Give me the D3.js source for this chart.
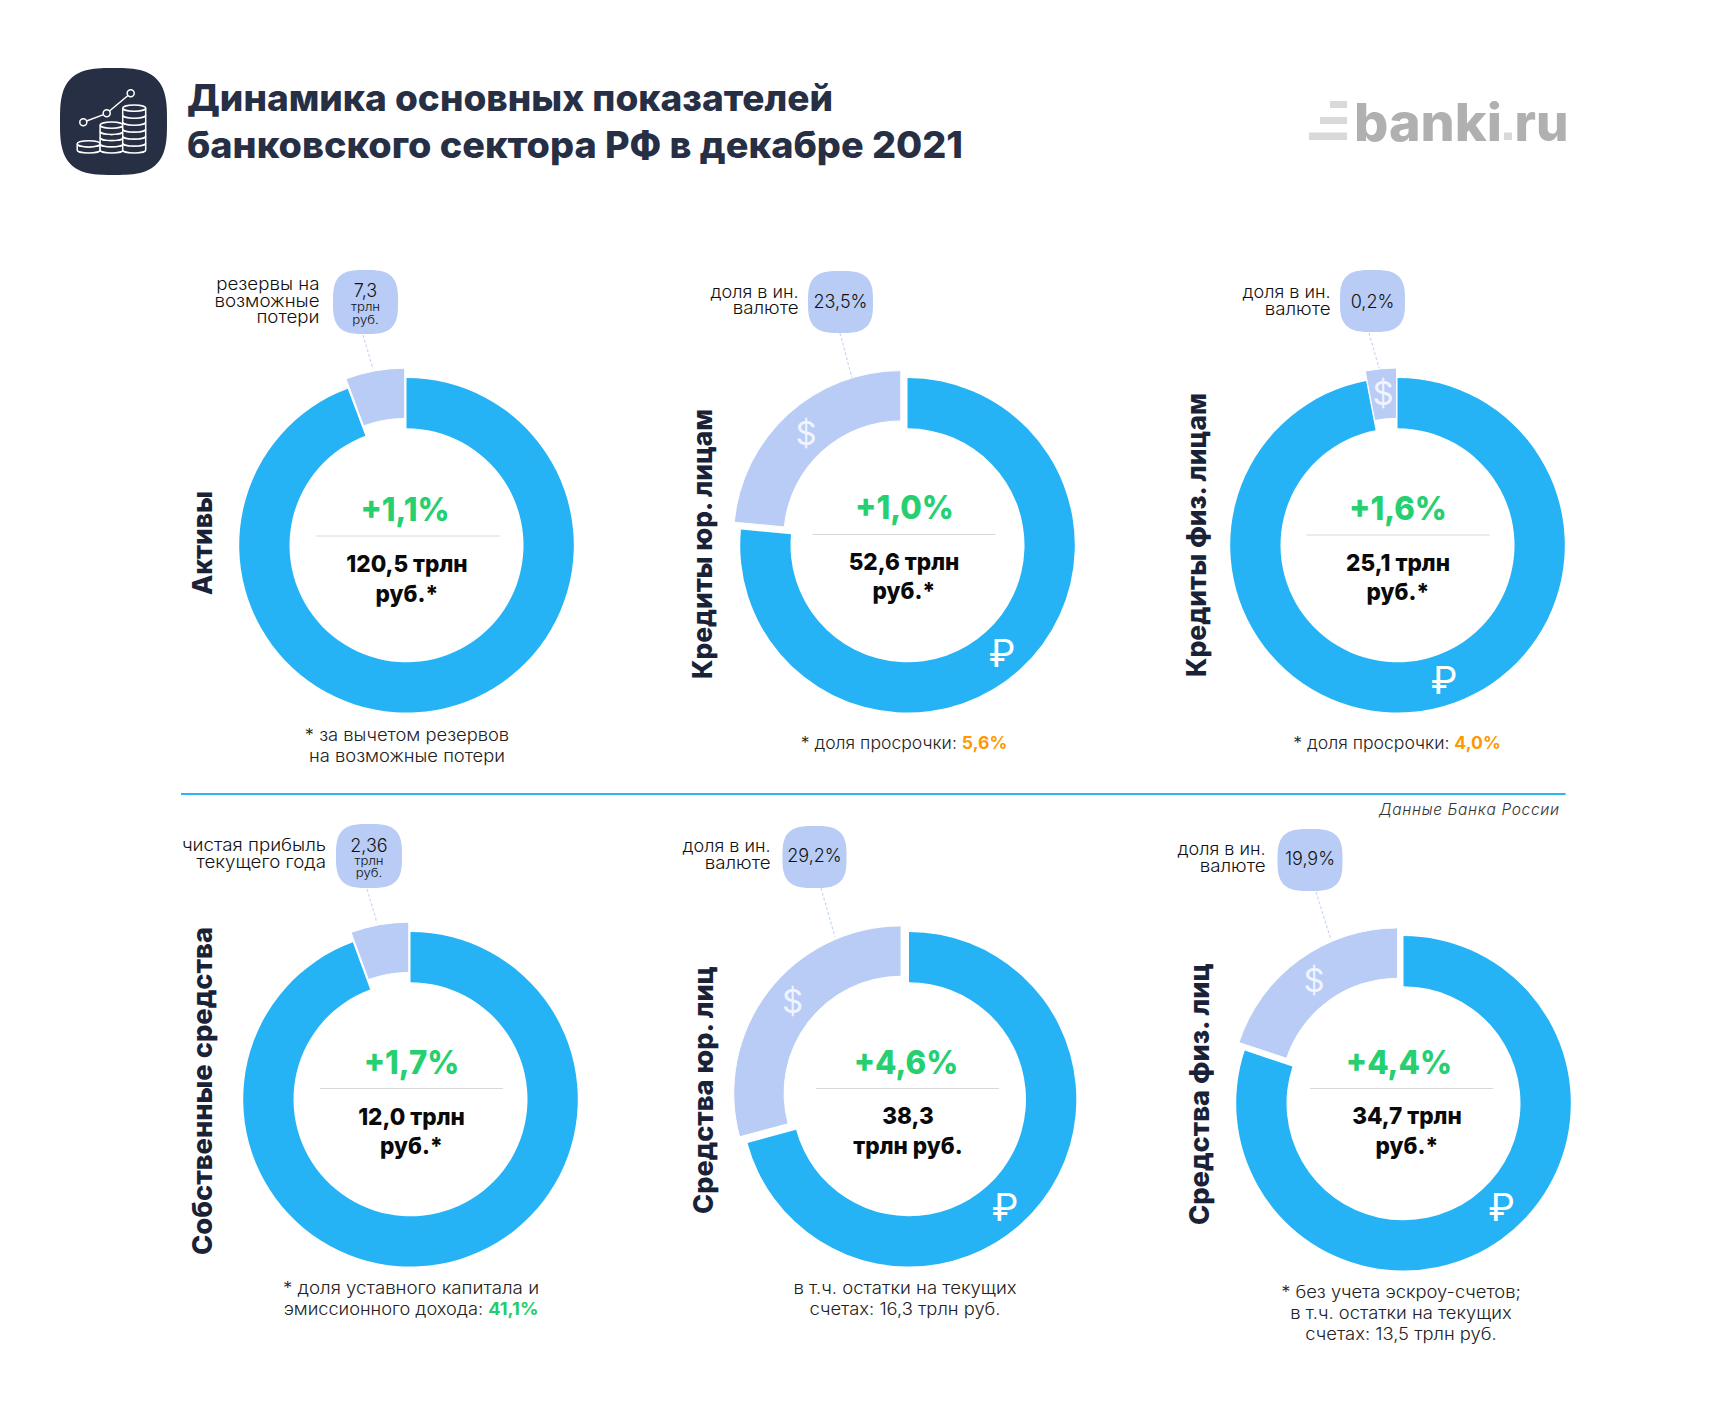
<!DOCTYPE html>
<html lang="ru"><head><meta charset="utf-8">
<script src="https://cdn.jsdelivr.net/npm/d3@7"></script>
<style>html,body{margin:0;padding:0;background:#fff}svg{display:block}text{font-family:Inter,"Noto Sans",sans-serif}</style>
</head><body><svg id="c" width="1712" height="1422"></svg>
<script>
// ---- data ----
const titles = ["Активы","Кредиты юр. лицам","Кредиты физ. лицам","Собственные средства","Средства юр. лиц","Средства физ. лиц"];
const mainShare = [120.5, 76.5, 97, 94.4, 70.8, 80.1];   // blue slice
const sideShare = [7.3, 23.5, 3, 5.6, 29.2, 19.9];        // light slice, as drawn
const changes = ["+1,1%","+1,0%","+1,6%","+1,7%","+4,6%","+4,4%"];
const valueLines = [["120,5 трлн","руб.*"],["52,6 трлн","руб.*"],["25,1 трлн","руб.*"],["12,0 трлн","руб.*"],["38,3","трлн руб."],["34,7 трлн","руб.*"]];
const bubbleValues = ["7,3","23,5%","0,2%","2,36","29,2%","19,9%"];
const bubbleUnits = [["трлн","руб."],[],[],["трлн","руб."],[],[]];
const sideLabels = [["резервы на","возможные","потери"],["доля в ин.","валюте"],["доля в ин.","валюте"],["чистая прибыль","текущего года"],["доля в ин.","валюте"],["доля в ин.","валюте"]];
const notes = [
 [["* за вычетом резервов"],["на возможные потери"]],
 [["* доля просрочки: ","5,6%"]],
 [["* доля просрочки: ","4,0%"]],
 [["* доля уставного капитала и"],["эмиссионного дохода: ","41,1%"]],
 [["в т.ч. остатки на текущих"],["счетах: 16,3 трлн руб."]],
 [["* без учета эскроу-счетов;"],["в т.ч. остатки на текущих"],["счетах: 13,5 трлн руб."]]
];
const noteAccent = ["","#ff9800","#ff9800","#1fce6a","",""];
const showCurrency = [false,true,true,false,true,true];
const titleText = ["Динамика основных показателей","банковского сектора РФ в декабре 2021"];
const sourceText = "Данные Банка России";

// ---- layout ----
const layout = [
 {cx:406.5,cy:545.3,tx:202,ty:543,tl:104,dx:408,dy:536,px:405,py:521,vx:407,vy:572,bx:365.5,by:302,bw:65,bh:64,lr:319.5,ly:[290,306.5,323],lead:[363,335,373,369],bt:[296.5,311,323.5],notex:407,notey:[741,762],ns:[1.08,1.08]},
 {cx:907.5,cy:545.3,tx:702,ty:544,tl:270,dx:904,dy:534.5,px:904.5,py:519,vx:904,vy:569.5,bx:840.5,by:302,bw:65,bh:62,lr:798.5,ly:[297.5,314],lead:[840,333,852,378],bt:[308],notex:904,notey:[749],ns:[1.035],rub:[1002,652.5],usd:[806,433]},
 {cx:1397.5,cy:545.3,tx:1196,ty:535,tl:284,dx:1398,dy:535,px:1398,py:520,vx:1398,vy:570.5,bx:1372.5,by:301,bw:65,bh:62,lr:1330.5,ly:[298,315],lead:[1369,333,1379,368],bt:[308],notex:1397,notey:[749],ns:[1.035],rub:[1444,679.5],usd:[1383,393]},
 {cx:410.5,cy:1099.3,tx:202,ty:1091,tl:328,dx:411.5,dy:1088.5,px:411.5,py:1074,vx:411.5,vy:1124.5,bx:369,by:856,bw:66,bh:64,lr:326,ly:[851,868],lead:[367,889,377,923],bt:[851.5,865,877],notex:411,notey:[1294,1315],ns:[1.1,1.07]},
 {cx:909,cy:1099.3,tx:703,ty:1090,tl:248,dx:907.5,dy:1088.5,px:906,py:1074,vx:908,vy:1124,bx:814.5,by:857,bw:64,bh:62,lr:770.5,ly:[852,869],lead:[821,888,835,937],bt:[862],notex:905,notey:[1294,1315],ns:[1.09,1.08],rub:[1005,1206.5],usd:[792.7,1001]},
 {cx:1403.5,cy:1103.3,tx:1199,ty:1094,tl:262,dx:1401.5,dy:1088.5,px:1399,py:1073.5,vx:1407,vy:1124,bx:1310,by:860,bw:65,bh:62,lr:1265.5,ly:[855,872],lead:[1316,892,1331,940],bt:[865],notex:1401,notey:[1298,1319,1340],ns:[1.08,1.08,1.08],rub:[1501.5,1206.5],usd:[1314,980]}
];
const R=167.3, r=117, explode=10;
const BLUE="#26b3f6", LIGHT="#b9ccf5", NAVY="#272f45", GREEN="#26cf6f";

const svg=d3.select("#c");
function squircle(cx,cy,w,h,n=3.1){
  const pts=d3.range(0,360,6).map(a=>{const t=a*Math.PI/180,c=Math.cos(t),s=Math.sin(t);
    return [cx+w/2*Math.sign(c)*Math.pow(Math.abs(c),2/n),cy+h/2*Math.sign(s)*Math.pow(Math.abs(s),2/n)];});
  return d3.line().curve(d3.curveCatmullRomClosed)(pts);
}
function txt(p,s,x,y,size,weight,fill,anchor="middle"){
  return p.append("text").attr("x",x).attr("y",y).attr("font-size",size).attr("font-weight",weight).attr("fill",fill).attr("text-anchor",anchor).text(s);
}
// horizontally stretched text: the reference face is wider than Inter
function wide(p,s,x,y,size,weight,fill,anchor,sx){
  return txt(p,s,0,0,size,weight,fill,anchor).attr("transform",`translate(${x},${y}) scale(${sx},1)`);
}

// header icon
const icon=svg.append("g");
icon.append("path").attr("d",squircle(113.5,121.5,107,107,3.1)).attr("fill",NAVY);
const ic=icon.append("g").attr("fill","none").attr("stroke","#fff").attr("stroke-width",1.5);
[[88.7,140.7,1],[111.6,122,4],[134.2,105,6]].forEach(([x,top,n])=>{
  const rx=11.5,ry=3.1,step=(153-top-ry*2)/n;
  d3.range(n,0,-1).forEach(i=>{
    const y=top+ry+step*i;
    ic.append("path").attr("d",`M${x-rx},${y-step}V${y}A${rx},${ry} 0 0 0 ${x+rx},${y}V${y-step}A${rx},${ry} 0 0 1 ${x-rx},${y-step}`).attr("fill",NAVY);
  });
  ic.append("ellipse").attr("cx",x).attr("cy",top+ry).attr("rx",rx).attr("ry",ry).attr("fill",NAVY);
});
ic.append("path").attr("d","M86.5,121L103.5,114.6M109.5,111L128,95.5");
[[83.3,122.3],[106.7,113.3],[130.7,93.3]].forEach(p=>ic.append("circle").attr("cx",p[0]).attr("cy",p[1]).attr("r",3.5));

// title
titleText.forEach((t,i)=>{
  txt(svg,t,187,[111,157.5][i],37,800,NAVY,"start").attr("textLength",[646,776][i]).attr("lengthAdjust","spacingAndGlyphs");
});

// logo
[[1330,101,17,7],[1320,117,27,7],[1309,132.5,38,7.5]].forEach(b=>svg.append("rect").attr("x",b[0]).attr("y",b[1]).attr("width",b[2]).attr("height",b[3]).attr("fill","#d9d9d9"));
txt(svg,"banki",1354,140.5,52,800,"#b0b0b0","start").attr("textLength",148).attr("lengthAdjust","spacingAndGlyphs");
svg.append("rect").attr("x",1504).attr("y",132.5).attr("width",8).attr("height",7.5).attr("fill","#d9d9d9");
txt(svg,"ru",1514.5,140.5,52,800,"#b0b0b0","start").attr("textLength",54).attr("lengthAdjust","spacingAndGlyphs");

// separator + source
svg.append("line").attr("x1",181).attr("x2",1565.5).attr("y1",794).attr("y2",794).attr("stroke","#2ab5f5").attr("stroke-width",2);
txt(svg,sourceText,1559,815,15.5,300,"#333","end").attr("font-style","italic").attr("textLength",180);

// donuts
const pie=d3.pie().sort(null).value(d=>d);
const arc=d3.arc().innerRadius(r).outerRadius(R);
layout.forEach((L,i)=>{
  const g=svg.append("g");
  const arcs=pie.startAngle(0).endAngle(2*Math.PI)([mainShare[i],sideShare[i]]);
  g.append("line").attr("x1",L.lead[0]).attr("y1",L.lead[1]).attr("x2",L.lead[2]).attr("y2",L.lead[3])
    .attr("stroke","#c9d7f7").attr("stroke-width",1.2).attr("stroke-dasharray","3 2");
  const mid=(arcs[1].startAngle+arcs[1].endAngle)/2;
  g.append("path").attr("transform",`translate(${L.cx},${L.cy})`).attr("d",arc(arcs[0])).attr("fill",BLUE);
  g.append("path").attr("transform",`translate(${L.cx+Math.sin(mid)*explode},${L.cy-Math.cos(mid)*explode})`)
    .attr("d",arc(arcs[1])).attr("fill",LIGHT).attr("stroke","#fff").attr("stroke-width",1);
  if(showCurrency[i]){
    txt(g,"₽",L.rub[0],L.rub[1]+14,38,400,"#fff");
    txt(g,"$",L.usd[0],L.usd[1]+12,33,400,"#f0f4ff");
  }
  txt(g,titles[i],0,0,27,800,"#1a2238").attr("transform",`translate(${L.tx+9.5},${L.ty}) rotate(-90)`).attr("textLength",L.tl).attr("lengthAdjust","spacingAndGlyphs");
  wide(g,changes[i],L.px,L.py,33,800,GREEN,"middle",0.945);
  g.append("line").attr("x1",L.dx-91.5).attr("x2",L.dx+91.5).attr("y1",L.dy).attr("y2",L.dy).attr("stroke","#d8d8d8").attr("stroke-width",1);
  valueLines[i].forEach((s,k)=>wide(g,s,L.vx,L.vy+k*29.6,23.5,800,"#0a0a0a","middle",0.96));
  g.append("path").attr("d",squircle(L.bx,L.by,L.bw,L.bh)).attr("fill",LIGHT);
  txt(g,bubbleValues[i],L.bx,L.bt[0],18,300,"#111");
  bubbleUnits[i].forEach((s,k)=>wide(g,s,L.bx,L.bt[k+1],12,300,"#111","middle",1.1));
  sideLabels[i].forEach((s,k)=>wide(g,s,L.lr,L.ly[k],17.5,300,"#111","end",s.startsWith("доля")?1.03:1.07));
  notes[i].forEach((ln,k)=>{
    const t=wide(g,"",L.notex,L.notey[k],17,300,"#222","middle",L.ns[k]);
    t.append("tspan").text(ln[0]);
    if(ln[1]) t.append("tspan").attr("fill",noteAccent[i]).attr("font-weight",700).text(ln[1]);
  });
});
</script></body></html>
